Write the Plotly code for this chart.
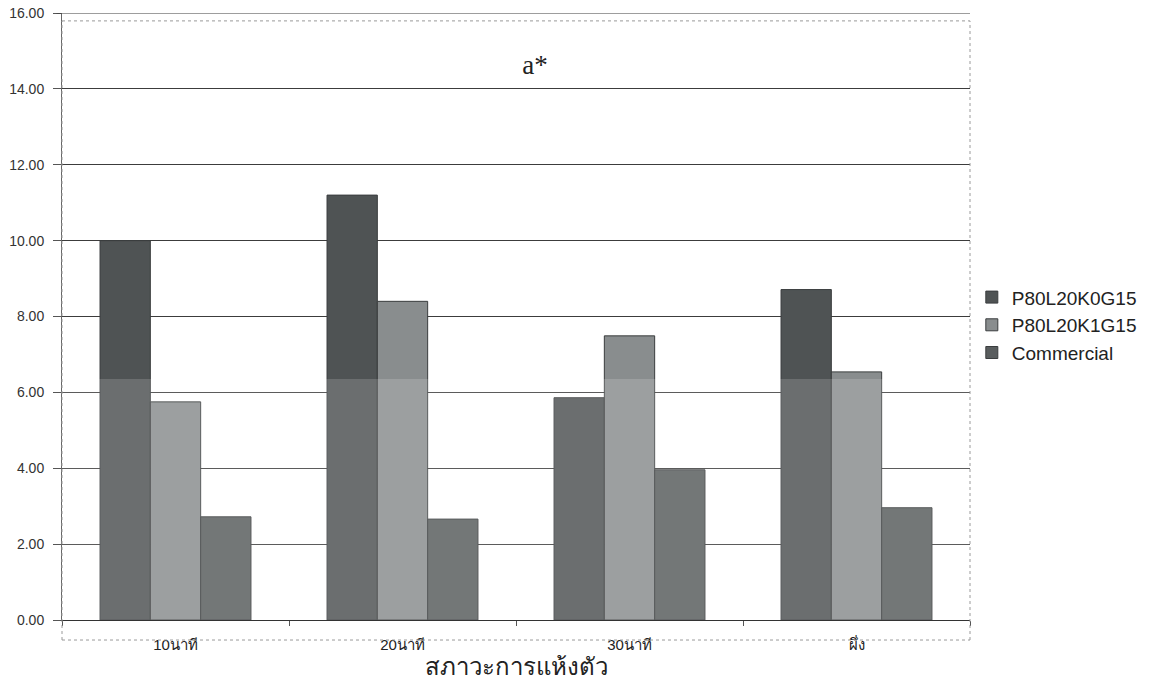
import plotly.graph_objects as go

# Drying condition categories
categories = ["10นาที", "20นาที", "30นาที", "ผึ่ง"]

# a* values per formulation
p80l20k0g15 = [10.00, 11.20, 5.86, 8.71]
p80l20k1g15 = [5.75, 8.40, 7.49, 6.54]
commercial = [2.72, 2.66, 3.96, 2.96]

series_names = ["P80L20K0G15", "P80L20K1G15", "Commercial"]
series_colors = ["#4f5354", "#898d8e", "#595d5e"]

fig = go.Figure()
for name, vals, col in zip(series_names, [p80l20k0g15, p80l20k1g15, commercial], series_colors):
    fig.add_trace(go.Bar(
        x=categories, y=vals, name=name,
        marker=dict(color=col, line=dict(color="#3a3d3e", width=1)),
    ))

frame = dict(type="line", xref="paper", yref="paper",
             line=dict(color="#9a9a9a", width=1, dash="dot"))
y_max = 16
shapes = [
    # lighter lower band across the plot
    dict(type="rect", xref="paper", yref="y", x0=0, x1=1, y0=0, y1=6.35,
         fillcolor="rgba(255,255,255,0.16)", line=dict(width=0), layer="above"),
    # top gridline at the axis maximum
    dict(type="line", xref="paper", yref="y", x0=-0.006, x1=1, y0=y_max, y1=y_max,
         line=dict(color="#3c3c3c", width=1)),
    # dotted outer frame of the plot area
    dict(frame, x0=0, x1=1, y0=0.987, y1=0.987),
    dict(frame, x0=0, x1=0, y0=-0.033, y1=0.987),
    dict(frame, x0=1, x1=1, y0=-0.033, y1=0.987),
    dict(frame, x0=0, x1=1, y0=-0.033, y1=-0.033),
]

fig.update_layout(
    width=1163, height=686,
    margin=dict(l=62, r=193, t=13, b=66),
    paper_bgcolor="white", plot_bgcolor="white",
    barmode="group", bargap=0.335, bargroupgap=0,
    font=dict(family="Liberation Sans, Arial, sans-serif", color="#2a2a2a"),
    title=dict(text="a*", xref="paper", x=0.521, xanchor="center",
               yref="container", y=0.906, yanchor="middle",
               font=dict(family="Liberation Serif, Times New Roman, serif", size=27, color="#222")),
    legend=dict(x=1.002, y=0.563, xanchor="left", yanchor="top",
                font=dict(size=19, color="#222"), tracegroupgap=0,
                bgcolor="rgba(0,0,0,0)", itemwidth=30),
    shapes=shapes,
    showlegend=True,
)

fig.update_yaxes(
    range=[0, y_max], tickvals=[0, 2, 4, 6, 8, 10, 12, 14, 16],
    tickformat=".2f", showgrid=True, gridcolor="#3c3c3c", gridwidth=1,
    ticks="outside", ticklen=8, tickcolor="#555",
    tickfont=dict(size=14, color="#333"), ticklabelstandoff=6, zeroline=False,
    showline=True, linecolor="#666", linewidth=1, automargin=False,
)
fig.update_xaxes(
    type="category", tickson="boundaries", ticks="outside", ticklen=5,
    tickcolor="#555", showline=True, linecolor="#333", linewidth=1,
    tickfont=dict(size=15, color="#222"), ticklabelstandoff=11,
    automargin=False,
    title=dict(text="สภาวะการแห้งตัว", font=dict(size=24, color="#222"), standoff=6),
)

fig.write_html("out.html")
